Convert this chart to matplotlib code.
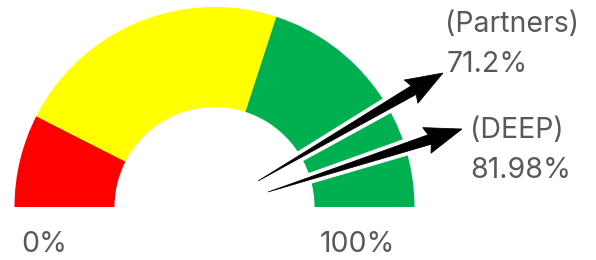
import matplotlib
matplotlib.use("Agg")
import matplotlib.pyplot as plt
from matplotlib.patches import Wedge, Polygon
import matplotlib.patheffects as pe
import numpy as np

plt.rcParams['font.family'] = ['Inter', 'DejaVu Sans']

# gauge bands (percent) and colours
band_edges = [0, 15, 60, 100]
band_colors = ['#ff0000', '#ffff00', '#00b050']

# markers
names = ['(Partners)', '(DEEP)']
values = [71.2, 81.98]
scale_labels = ['0%', '100%']

txt_color = '#595959'

fig = plt.figure(figsize=(5.96, 2.6), dpi=100)
ax = fig.add_axes([0, 0, 1, 1])
ax.set_xlim(0, 596)
ax.set_ylim(0, 260)
ax.set_aspect('equal')
ax.axis('off')

cx, cy = 214.5, 53
R, w = 200, 100

def ang(p):
    return 180 - 180 * p / 100.0

for i in range(len(band_colors)):
    wd = Wedge((cx, cy), R, ang(band_edges[i + 1]), ang(band_edges[i]),
               width=w, facecolor=band_colors[i], edgecolor='none')
    ax.add_patch(wd)

def arrow_shape(tail, tip, hl=34, hw=27, sw=10):
    t = np.array(tail, float)
    h = np.array(tip, float)
    u = (h - t) / np.hypot(*(h - t))
    n = np.array([-u[1], u[0]])
    b = h - hl * u
    return [t, b + sw / 2 * n, b - 3 * u + hw / 2 * n, h,
            b - 3 * u - hw / 2 * n, b - sw / 2 * n]

# arrows (tail, head) and label anchors
arrow_pos = [((258, 79), (443, 187)), ((268, 68), (462, 131))]
label_pos = [(445, 235), (470, 130)]

for i in range(len(names)):
    p = Polygon(arrow_shape(*arrow_pos[i]), closed=True, facecolor='black',
                edgecolor='black', linewidth=0.5, zorder=3)
    p.set_path_effects([pe.withStroke(linewidth=6, foreground='white')])
    ax.add_patch(p)
    ax.text(label_pos[i][0], label_pos[i][1], names[i], fontsize=20.5,
            color=txt_color, ha='left', va='center')
    ax.text(label_pos[i][0] + 2 * (i == 0), label_pos[i][1] - 40,
            "{}%".format(values[i]), fontsize=20.5,
            color=txt_color, ha='left', va='center')

ax.text(44, 15, scale_labels[0], fontsize=20.5, color=txt_color,
        ha='center', va='center')
ax.text(357, 15, scale_labels[1], fontsize=20.5, color=txt_color,
        ha='center', va='center')

fig.savefig('out.png', dpi=100)
